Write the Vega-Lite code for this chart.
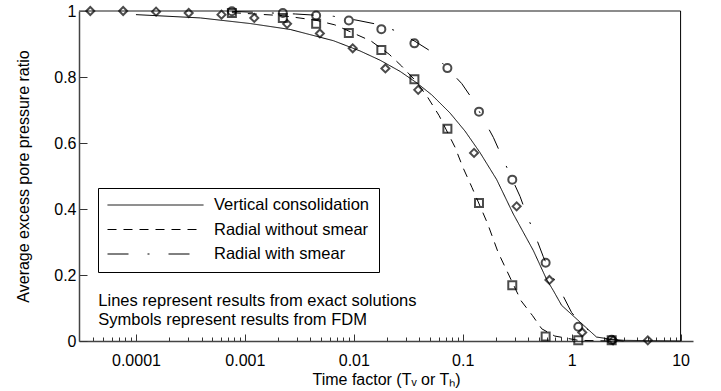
{
  "$schema": "https://vega.github.io/schema/vega-lite/v6.json",
  "autosize": {"type": "none"},
  "padding": {"left": 79, "top": 11, "right": 28, "bottom": 50},
  "width": 614,
  "height": 330,
  "config": {"font": "Liberation Sans", "view": {"stroke": null}},
  "datasets": {
    "lines": [
      {"T": 0.0001, "U": 0.989, "series": "Vertical consolidation"},
      {"T": 0.00039, "U": 0.979, "series": "Vertical consolidation"},
      {"T": 0.00112, "U": 0.962, "series": "Vertical consolidation"},
      {"T": 0.00261, "U": 0.944, "series": "Vertical consolidation"},
      {"T": 0.0065, "U": 0.91, "series": "Vertical consolidation"},
      {"T": 0.0114, "U": 0.879, "series": "Vertical consolidation"},
      {"T": 0.0174, "U": 0.851, "series": "Vertical consolidation"},
      {"T": 0.0266, "U": 0.817, "series": "Vertical consolidation"},
      {"T": 0.0379, "U": 0.782, "series": "Vertical consolidation"},
      {"T": 0.0519, "U": 0.746, "series": "Vertical consolidation"},
      {"T": 0.0764, "U": 0.691, "series": "Vertical consolidation"},
      {"T": 0.105, "U": 0.636, "series": "Vertical consolidation"},
      {"T": 0.144, "U": 0.571, "series": "Vertical consolidation"},
      {"T": 0.205, "U": 0.489, "series": "Vertical consolidation"},
      {"T": 0.291, "U": 0.385, "series": "Vertical consolidation"},
      {"T": 0.445, "U": 0.274, "series": "Vertical consolidation"},
      {"T": 0.59, "U": 0.186, "series": "Vertical consolidation"},
      {"T": 0.678, "U": 0.153, "series": "Vertical consolidation"},
      {"T": 0.809, "U": 0.108, "series": "Vertical consolidation"},
      {"T": 1.69, "U": 0.012, "series": "Vertical consolidation"},
      {"T": 2.24, "U": 0.006, "series": "Vertical consolidation"},
      {"T": 3.0, "U": 0.002, "series": "Vertical consolidation"},
      {"T": 10, "U": 0.0, "series": "Vertical consolidation"},
      {"T": 0.00076, "U": 0.995, "series": "Radial without smear"},
      {"T": 0.0022, "U": 0.986, "series": "Radial without smear"},
      {"T": 0.0045, "U": 0.972, "series": "Radial without smear"},
      {"T": 0.0067, "U": 0.958, "series": "Radial without smear"},
      {"T": 0.0144, "U": 0.909, "series": "Radial without smear"},
      {"T": 0.0211, "U": 0.869, "series": "Radial without smear"},
      {"T": 0.0275, "U": 0.833, "series": "Radial without smear"},
      {"T": 0.037, "U": 0.788, "series": "Radial without smear"},
      {"T": 0.048, "U": 0.737, "series": "Radial without smear"},
      {"T": 0.0607, "U": 0.683, "series": "Radial without smear"},
      {"T": 0.085, "U": 0.587, "series": "Radial without smear"},
      {"T": 0.1007, "U": 0.525, "series": "Radial without smear"},
      {"T": 0.1217, "U": 0.465, "series": "Radial without smear"},
      {"T": 0.169, "U": 0.356, "series": "Radial without smear"},
      {"T": 0.211, "U": 0.269, "series": "Radial without smear"},
      {"T": 0.343, "U": 0.122, "series": "Radial without smear"},
      {"T": 0.437, "U": 0.077, "series": "Radial without smear"},
      {"T": 0.531, "U": 0.037, "series": "Radial without smear"},
      {"T": 0.7, "U": 0.015, "series": "Radial without smear"},
      {"T": 1.15, "U": 0.002, "series": "Radial without smear"},
      {"T": 2.3, "U": 0.0, "series": "Radial without smear"},
      {"T": 0.00076, "U": 0.999, "series": "Radial with smear"},
      {"T": 0.0029, "U": 0.991, "series": "Radial with smear"},
      {"T": 0.0065, "U": 0.984, "series": "Radial with smear"},
      {"T": 0.0107, "U": 0.972, "series": "Radial with smear"},
      {"T": 0.0157, "U": 0.961, "series": "Radial with smear"},
      {"T": 0.0248, "U": 0.939, "series": "Radial with smear"},
      {"T": 0.0365, "U": 0.908, "series": "Radial with smear"},
      {"T": 0.052, "U": 0.876, "series": "Radial with smear"},
      {"T": 0.098, "U": 0.78, "series": "Radial with smear"},
      {"T": 0.125, "U": 0.729, "series": "Radial with smear"},
      {"T": 0.191, "U": 0.617, "series": "Radial with smear"},
      {"T": 0.228, "U": 0.56, "series": "Radial with smear"},
      {"T": 0.336, "U": 0.438, "series": "Radial with smear"},
      {"T": 0.386, "U": 0.383, "series": "Radial with smear"},
      {"T": 0.46, "U": 0.322, "series": "Radial with smear"},
      {"T": 0.548, "U": 0.256, "series": "Radial with smear"},
      {"T": 0.632, "U": 0.21, "series": "Radial with smear"},
      {"T": 0.81, "U": 0.145, "series": "Radial with smear"},
      {"T": 1.0, "U": 0.086, "series": "Radial with smear"},
      {"T": 1.24, "U": 0.05, "series": "Radial with smear"},
      {"T": 1.69, "U": 0.012, "series": "Radial with smear"},
      {"T": 2.14, "U": 0.005, "series": "Radial with smear"},
      {"T": 3.0, "U": 0.0, "series": "Radial with smear"}
    ],
    "points": [
      {"T": 0.0000381, "U": 1.0, "method": "Vertical FDM"},
      {"T": 0.0000763, "U": 1.0, "method": "Vertical FDM"},
      {"T": 0.000153, "U": 0.998, "method": "Vertical FDM"},
      {"T": 0.000305, "U": 0.994, "method": "Vertical FDM"},
      {"T": 0.00061, "U": 0.989, "method": "Vertical FDM"},
      {"T": 0.00122, "U": 0.979, "method": "Vertical FDM"},
      {"T": 0.00244, "U": 0.961, "method": "Vertical FDM"},
      {"T": 0.00488, "U": 0.932, "method": "Vertical FDM"},
      {"T": 0.00977, "U": 0.887, "method": "Vertical FDM"},
      {"T": 0.0195, "U": 0.826, "method": "Vertical FDM"},
      {"T": 0.039, "U": 0.761, "method": "Vertical FDM"},
      {"T": 0.127, "U": 0.57, "method": "Vertical FDM"},
      {"T": 0.3125, "U": 0.408, "method": "Vertical FDM"},
      {"T": 0.625, "U": 0.185, "method": "Vertical FDM"},
      {"T": 1.25, "U": 0.026, "method": "Vertical FDM"},
      {"T": 2.4, "U": 0.002, "method": "Vertical FDM"},
      {"T": 5.0, "U": 0.002, "method": "Vertical FDM"},
      {"T": 0.00076, "U": 0.994, "method": "Radial without smear FDM"},
      {"T": 0.00223, "U": 0.979, "method": "Radial without smear FDM"},
      {"T": 0.00451, "U": 0.961, "method": "Radial without smear FDM"},
      {"T": 0.009, "U": 0.933, "method": "Radial without smear FDM"},
      {"T": 0.0179, "U": 0.882, "method": "Radial without smear FDM"},
      {"T": 0.036, "U": 0.793, "method": "Radial without smear FDM"},
      {"T": 0.0723, "U": 0.643, "method": "Radial without smear FDM"},
      {"T": 0.141, "U": 0.418, "method": "Radial without smear FDM"},
      {"T": 0.285, "U": 0.169, "method": "Radial without smear FDM"},
      {"T": 0.577, "U": 0.014, "method": "Radial without smear FDM"},
      {"T": 1.15, "U": 0.002, "method": "Radial without smear FDM"},
      {"T": 2.33, "U": 0.002, "method": "Radial without smear FDM"},
      {"T": 0.00076, "U": 0.999, "method": "Radial with smear FDM"},
      {"T": 0.00223, "U": 0.994, "method": "Radial with smear FDM"},
      {"T": 0.00451, "U": 0.986, "method": "Radial with smear FDM"},
      {"T": 0.009, "U": 0.971, "method": "Radial with smear FDM"},
      {"T": 0.0179, "U": 0.945, "method": "Radial with smear FDM"},
      {"T": 0.036, "U": 0.902, "method": "Radial with smear FDM"},
      {"T": 0.0723, "U": 0.827, "method": "Radial with smear FDM"},
      {"T": 0.141, "U": 0.695, "method": "Radial with smear FDM"},
      {"T": 0.285, "U": 0.489, "method": "Radial with smear FDM"},
      {"T": 0.577, "U": 0.237, "method": "Radial with smear FDM"},
      {"T": 1.15, "U": 0.043, "method": "Radial with smear FDM"},
      {"T": 2.33, "U": 0.004, "method": "Radial with smear FDM"}
    ],
    "notes": [
      {"T": 0.0000451, "U": 0.12, "text": "Lines represent results from exact solutions"},
      {"T": 0.0000451, "U": 0.064, "text": "Symbols represent results from FDM"}
    ],
    "frameTop": [{"T": 0.00003, "T2": 10, "U": 1}],
    "frameRight": [{"T": 10, "U": 0, "U2": 1}]
  },
  "layer": [
    {
      "data": {"name": "frameTop"},
      "mark": {"type": "rule", "color": "#666666", "strokeWidth": 1.5},
      "encoding": {
        "x": {"field": "T", "type": "quantitative"},
        "x2": {"field": "T2"},
        "y": {"field": "U", "type": "quantitative"}
      }
    },
    {
      "data": {"name": "frameRight"},
      "mark": {"type": "rule", "color": "black", "strokeWidth": 1},
      "encoding": {
        "x": {"field": "T", "type": "quantitative"},
        "y": {"field": "U", "type": "quantitative"},
        "y2": {"field": "U2"}
      }
    },
    {
      "data": {"name": "lines"},
      "mark": {"type": "line", "color": "black", "strokeWidth": 1},
      "encoding": {
        "x": {
          "field": "T", "type": "quantitative",
          "scale": {"type": "log", "domain": [0.00003, 13], "nice": false},
          "axis": {
            "title": "Time factor (Tᵥ or Tₕ)",
            "values": [0.00004,0.00005,0.00006,0.00007,0.00008,0.00009,0.0001,0.0002,0.0003,0.0004,0.0005,0.0006,0.0007,0.0008,0.0009,0.001,0.002,0.003,0.004,0.005,0.006,0.007,0.008,0.009,0.01,0.02,0.03,0.04,0.05,0.06,0.07,0.08,0.09,0.1,0.2,0.3,0.4,0.5,0.6,0.7,0.8,0.9,1,2,3,4,5,6,7,8,9,10],
            "format": "~g",
            "labelExpr": "abs(log(datum.value)/LN10 - round(log(datum.value)/LN10)) < 0.001 ? datum.label : ''",
            "tickSize": {"condition": {"test": "abs(log(datum.value)/LN10 - round(log(datum.value)/LN10)) < 0.001", "value": -7}, "value": -4},
            "tickColor": "#333333",
            "domainColor": "#444444",
            "domainWidth": 1.5,
            "labelFontSize": 16,
            "labelColor": "black",
            "labelPadding": 18,
            "labelFlush": false,
            "labelOverlap": false,
            "titleFontSize": 16,
            "titleFontWeight": "normal",
            "titleColor": "black",
            "titlePadding": 0,
            "grid": false
          }
        },
        "y": {
          "field": "U", "type": "quantitative",
          "scale": {"domain": [0, 1], "nice": false},
          "axis": {
            "title": "Average excess pore pressure ratio",
            "values": [0,0.1,0.2,0.3,0.4,0.5,0.6,0.7,0.8,0.9,1],
            "labelExpr": "round(datum.value*10) % 2 == 0 ? format(datum.value, '~g') : ''",
            "tickSize": {"condition": {"test": "round(datum.value*10) % 2 == 0", "value": -8}, "value": -4},
            "tickColor": "#333333",
            "domainColor": "#444444",
            "domainWidth": 1.5,
            "labelFontSize": 16,
            "labelColor": "black",
            "labelPadding": 11,
            "titleFontSize": 16,
            "titleFontWeight": "normal",
            "titleColor": "black",
            "titlePadding": 22,
            "grid": false
          }
        },
        "detail": {"field": "series"},
        "strokeDash": {
          "field": "series", "type": "nominal",
          "scale": {
            "domain": ["Vertical consolidation", "Radial without smear", "Radial with smear"],
            "range": [[1, 0], [9, 7], [21, 19, 2, 19]]
          },
          "legend": {
            "title": null,
            "orient": "none",
            "legendX": 19,
            "legendY": 177,
            "strokeColor": "black",
            "padding": 9,
            "symbolType": "stroke",
            "symbolSize": 9216,
            "symbolStrokeColor": "black",
            "symbolStrokeWidth": 1,
            "clipHeight": 16,
            "labelFontSize": 16.5,
            "labelColor": "black",
            "labelOffset": 10,
            "rowPadding": 7.5
          }
        }
      }
    },
    {
      "data": {"name": "points"},
      "mark": {"type": "point", "filled": false, "color": "black", "strokeWidth": 2, "size": 64},
      "encoding": {
        "x": {"field": "T", "type": "quantitative"},
        "y": {"field": "U", "type": "quantitative"},
        "shape": {
          "field": "method", "type": "nominal",
          "scale": {
            "domain": ["Vertical FDM", "Radial without smear FDM", "Radial with smear FDM"],
            "range": ["diamond", "square", "circle"]
          },
          "legend": null
        }
      }
    },
    {
      "data": {"name": "notes"},
      "mark": {"type": "text", "align": "left", "baseline": "middle", "fontSize": 16.5, "color": "black"},
      "encoding": {
        "x": {"field": "T", "type": "quantitative"},
        "y": {"field": "U", "type": "quantitative"},
        "text": {"field": "text"}
      }
    }
  ]
}
